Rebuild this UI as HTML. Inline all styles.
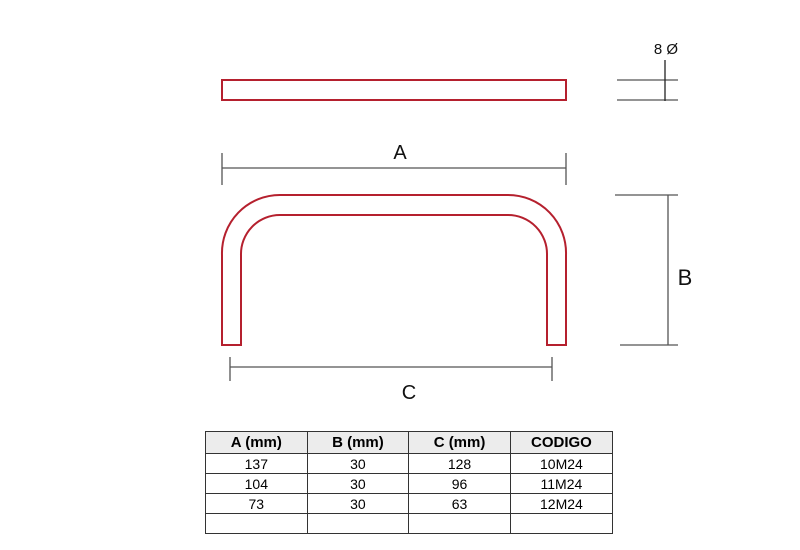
<!DOCTYPE html>
<html><head><style>
body{margin:0;background:#fff;width:800px;height:550px;overflow:hidden;position:relative;font-family:"Liberation Sans",sans-serif}
table{position:absolute;left:205px;top:431px;border-collapse:collapse;width:408px;font-size:14px}
td,th{border:1px solid #333;text-align:center;height:19px;padding:0;width:102px;line-height:18px}
th{background:#ececec;font-weight:bold;height:21px;font-size:15px}
</style></head><body>
<svg width="800" height="550" style="position:absolute;left:0;top:0">
<g fill="none" stroke="#b5202e" stroke-width="2">
<rect x="222" y="80" width="344" height="20"/>
<path d="M222 345 V255 A58 58 0 0 1 280 195 H508 A58 58 0 0 1 566 255 V345 H547 V255 A39 39 0 0 0 508 215 H280 A39 39 0 0 0 241 255 V345 Z"/>
</g>
<g stroke="#555" stroke-width="1.3" fill="none">
<path d="M222 168 H566 M222 153 V185 M566 153 V185"/>
<path d="M230 367 H552 M230 357 V381 M552 357 V381"/>
<path d="M615 195 H678 M620 345 H678 M668 195 V345"/>
<path d="M617 80 H678 M617 100 H678"/>
</g>
<path d="M665 60 V101" stroke="#222" stroke-width="1.3"/>
<g font-family="Liberation Sans,DejaVu Sans,sans-serif" fill="#111">
<text x="400" y="159" font-size="20" text-anchor="middle">A</text>
<text x="409" y="399" font-size="20" text-anchor="middle">C</text>
<text x="685" y="285" font-size="22" text-anchor="middle">B</text>
<text x="666" y="54" font-size="15" text-anchor="middle">8 Ø</text>
</g>
</svg>
<table>
<tr><th>A (mm)</th><th>B (mm)</th><th>C (mm)</th><th>CODIGO</th></tr>
<tr><td>137</td><td>30</td><td>128</td><td>10M24</td></tr>
<tr><td>104</td><td>30</td><td>96</td><td>11M24</td></tr>
<tr><td>73</td><td>30</td><td>63</td><td>12M24</td></tr>
<tr><td></td><td></td><td></td><td></td></tr>
</table>
</body></html>
